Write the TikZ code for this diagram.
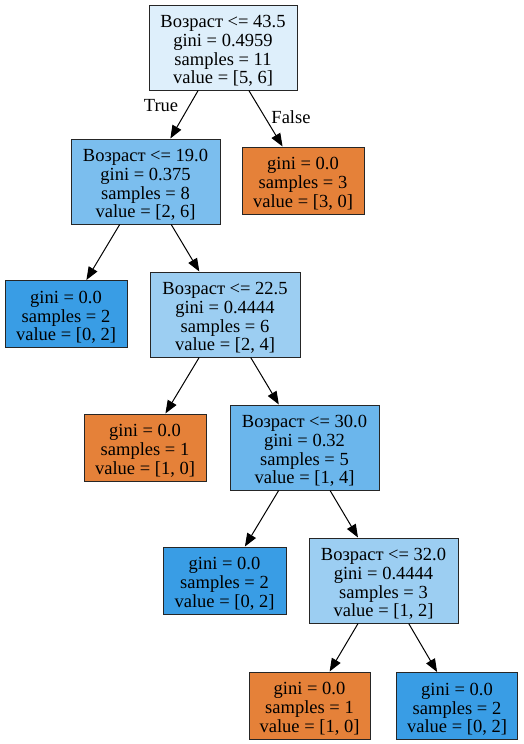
\documentclass[tikz,border=0pt]{standalone}
\usepackage{fontspec}
\setmainfont{Liberation Serif}
\usetikzlibrary{arrows.meta}
\definecolor{orangeleaf}{HTML}{E58139}
\definecolor{blueleaf}{HTML}{399DE5}
\definecolor{bluea}{HTML}{DEEFFB}
\definecolor{blueb}{HTML}{7BBEEE}
\definecolor{bluec}{HTML}{9CCEF2}
\definecolor{blued}{HTML}{6BB6EC}
\newcommand\treestrut{\rule{0pt}{19pt}}
\tikzset{
  treebox/.style={draw=black!85, line width=1pt, rectangle, align=center, inner sep=0pt,
    font=\fontsize{18.5}{18.9}\selectfont},
  splitbox/.style={treebox, minimum width=149pt, minimum height=85pt},
  leafbox/.style={treebox, minimum width=122pt, minimum height=67pt},
  edgelabel/.style={font=\fontsize{18.5}{19}\selectfont, inner sep=0pt},
  conn/.style={line width=1pt, -{Triangle[length=13pt,width=10pt]}}
}
\begin{document}
\begin{tikzpicture}[x=1pt,y=-1pt]
\useasboundingbox (0,0) rectangle (523,744);
\node[splitbox, fill=bluea, minimum width=148pt] (root) at (223,47.5) {\treestrut Возраст <= 43.5\\gini = 0.4959\\samples = 11\\value = [5, 6]};
\node[splitbox, fill=blueb] (n1) at (145.5,181.5) {\treestrut Возраст <= 19.0\\gini = 0.375\\samples = 8\\value = [2, 6]};
\node[leafbox, fill=orangeleaf] (f) at (303,180.5) {\treestrut gini = 0.0\\samples = 3\\value = [3, 0]};
\node[leafbox, fill=blueleaf] (l1) at (66,314) {\treestrut gini = 0.0\\samples = 2\\value = [0, 2]};
\node[splitbox, fill=bluec, minimum width=150pt] (n2) at (225,314.5) {\treestrut Возраст <= 22.5\\gini = 0.4444\\samples = 6\\value = [2, 4]};
\node[leafbox, fill=orangeleaf] (l2) at (145,447.5) {\treestrut gini = 0.0\\samples = 1\\value = [1, 0]};
\node[splitbox, fill=blued] (n3) at (304.5,447.5) {\treestrut Возраст <= 30.0\\gini = 0.32\\samples = 5\\value = [1, 4]};
\node[leafbox, fill=blueleaf, minimum width=123pt] (l3) at (224.5,580.5) {\treestrut gini = 0.0\\samples = 2\\value = [0, 2]};
\node[splitbox, fill=bluec] (n4) at (383.5,580.5) {\treestrut Возраст <= 32.0\\gini = 0.4444\\samples = 3\\value = [1, 2]};
\node[leafbox, fill=orangeleaf, minimum width=121pt] (l4) at (309.5,705.5) {\treestrut gini = 0.0\\samples = 1\\value = [1, 0]};
\node[leafbox, fill=blueleaf, minimum width=121pt] (l5) at (457,706) {\treestrut gini = 0.0\\samples = 2\\value = [0, 2]};
\draw[conn] (root) -- (n1);
\draw[conn] (root) -- (f);
\draw[conn] (n1) -- (l1);
\draw[conn] (n1) -- (n2);
\draw[conn] (n2) -- (l2);
\draw[conn] (n2) -- (n3);
\draw[conn] (n3) -- (l3);
\draw[conn] (n3) -- (n4);
\draw[conn] (n4) -- (l4);
\draw[conn] (n4) -- (l5);
\node[edgelabel] (truelabel) at (161,106) {True};
\node[edgelabel] (falselabel) at (291,117) {False};
\end{tikzpicture}
\end{document}
